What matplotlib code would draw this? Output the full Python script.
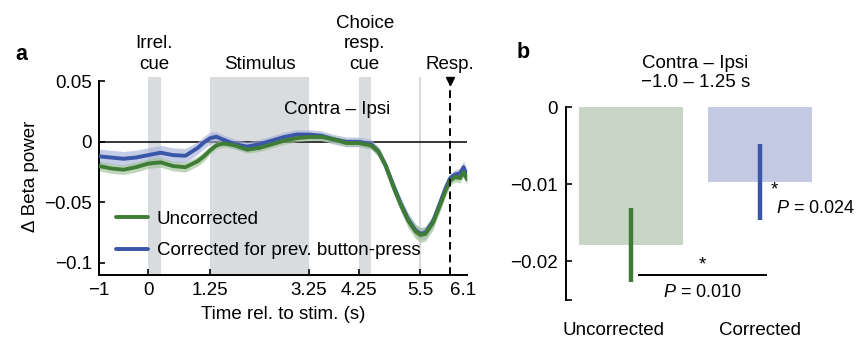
import numpy as np
import matplotlib
matplotlib.use("Agg")
from matplotlib import pyplot as plt

plt.rcParams['font.family'] = ['Liberation Sans', 'DejaVu Sans']
plt.rcParams['font.size'] = 13.5
plt.rcParams['mathtext.fontset'] = 'custom'
plt.rcParams['mathtext.it'] = 'Liberation Sans:italic'
plt.rcParams['mathtext.rm'] = 'Liberation Sans'

# panel a: time course, contra - ipsi beta power
t = [-1.0, -0.75, -0.5, -0.25, 0.0, 0.25, 0.5, 0.75, 1.0, 1.125, 1.25, 1.375, 1.5,
     1.625, 1.75, 2.0, 2.25, 2.5, 2.75, 3.0, 3.25, 3.5, 3.75, 4.0, 4.25, 4.5,
     4.65, 4.8, 4.95, 5.1, 5.25, 5.4, 5.5, 5.6, 5.75, 5.9, 6.0, 6.1, 6.2, 6.3,
     6.37, 6.44]
unc_mean = [-0.020, -0.022, -0.023, -0.021, -0.018, -0.017, -0.020, -0.021, -0.016,
            -0.012, -0.007, -0.003, -0.0015, -0.002, -0.003, -0.0065, -0.005,
            -0.002, 0.001, 0.003, 0.004, 0.004, 0.002, -0.001, -0.001, -0.003,
            -0.008, -0.020, -0.037, -0.052, -0.065, -0.074, -0.077, -0.076, -0.067,
            -0.052, -0.041, -0.032, -0.029, -0.030, -0.025, -0.031]
unc_sem = [0.004, 0.004, 0.004, 0.004, 0.004, 0.004, 0.004, 0.004, 0.004,
           0.004, 0.003, 0.003, 0.003, 0.003, 0.003, 0.003, 0.003,
           0.003, 0.003, 0.003, 0.003, 0.003, 0.003, 0.003, 0.003, 0.003,
           0.004, 0.004, 0.005, 0.005, 0.006, 0.006, 0.006, 0.006, 0.006,
           0.005, 0.005, 0.004, 0.004, 0.004, 0.004, 0.004]
cor_mean = [-0.012, -0.013, -0.014, -0.013, -0.011, -0.009, -0.011, -0.0115, -0.005,
            -0.0005, 0.003, 0.0042, 0.002, 0.000, -0.002, -0.004, -0.002,
            0.001, 0.004, 0.006, 0.006, 0.005, 0.002, 0.000, 0.000, -0.002,
            -0.008, -0.020, -0.036, -0.051, -0.064, -0.073, -0.076, -0.075, -0.066,
            -0.050, -0.039, -0.030, -0.027, -0.026, -0.021, -0.028]
cor_sem = [0.006, 0.006, 0.006, 0.006, 0.006, 0.006, 0.006, 0.006, 0.005,
           0.005, 0.005, 0.004, 0.004, 0.004, 0.004, 0.004, 0.004,
           0.004, 0.004, 0.004, 0.004, 0.004, 0.004, 0.004, 0.004, 0.004,
           0.004, 0.004, 0.005, 0.005, 0.005, 0.005, 0.005, 0.005, 0.005,
           0.005, 0.005, 0.004, 0.004, 0.004, 0.005, 0.005]

xtick_vals = [-1, 0, 1.25, 3.25, 4.25, 5.5, 6.1]
xtick_labels = ['\u22121', '0', '1.25', '3.25', '4.25', '5.5', '6.1']
ytick_vals = [0.05, 0, -0.05, -0.1]
ytick_labels = ['0.05', '0', '\u22120.05', '\u22120.1']

# event windows (start, end) and labels
events = [(0.0, 0.25), (1.25, 3.25), (4.25, 4.5)]
event_labels = ['Irrel.\ncue', 'Stimulus', 'Choice\nresp.\ncue']
resp_time = 6.1

# panel b: averaged -1.0 - 1.25 s
bar_names = ['Uncorrected', 'Corrected']
bar_means = [-0.0179, -0.0097]
bar_errs = [0.0048, 0.0049]
p_vals = ['0.010', '0.024']

green = '#3f7d36'
blue = '#3a56a8'
green_band = '#9fc097'
blue_band = '#a7b1da'
gray = '#d9dcdf'

fig = plt.figure(figsize=(8.57, 3.41), dpi=100)

# ---------------- panel a
ax = fig.add_axes([0.1153, 0.1935, 0.4296, 0.5807])
ax.set_xlim(-1, 6.44)
ax.set_ylim(-0.11, 0.0535)

for (s, e) in events:
    ax.axvspan(s, e, color=gray, lw=0, zorder=0)
ax.axvline(5.5, color=gray, lw=1.6, zorder=0)
ax.axhline(0, color='black', lw=1.1, zorder=1)

tt = np.array(t)
for m, s, c, bc, lab in [(cor_mean, cor_sem, blue, blue_band, 'Corrected for prev. button-press'),
                         (unc_mean, unc_sem, green, green_band, 'Uncorrected')]:
    m = np.array(m); s = np.array(s)
    ax.fill_between(tt, m - s, m + s, color=bc, alpha=0.65, lw=0, zorder=2)
    ax.plot(tt, m, color=c, lw=2.8, zorder=3, label=lab, solid_capstyle='round')

ax.plot([resp_time, resp_time], [-0.11, 0.05], color='black', lw=1.4,
        ls=(0, (4, 2.5)), zorder=4)
ax.plot([resp_time], [0.0505], marker='v', color='black', ms=6, clip_on=False, zorder=5)

# event labels above axes
for (s, e), lab in zip(events, event_labels):
    ax.text((s + e) / 2, 0.0565, lab, ha='center', va='bottom', linespacing=1.3)
ax.text(resp_time, 0.0565, 'Resp.', ha='center', va='bottom')
ax.text(3.81, 0.0264, 'Contra \u2013 Ipsi', ha='center', va='center')

ax.spines['top'].set_visible(False)
ax.spines['right'].set_visible(False)
ax.spines['left'].set_bounds(-0.11, 0.05)
ax.spines['bottom'].set_bounds(-1, 6.44)
for sp in ['left', 'bottom']:
    ax.spines[sp].set_linewidth(1.4)
ax.tick_params(direction='in', length=4, width=1.2, pad=5)
ax.set_xticks(xtick_vals)
ax.set_xticklabels(xtick_labels)
ax.get_xticklabels()[-1].set_horizontalalignment('left')
ax.set_yticks(ytick_vals)
ax.set_yticklabels(ytick_labels)
ax.set_xlabel('Time rel. to stim. (s)', labelpad=5)
ax.set_ylabel('\u0394 Beta power', labelpad=4)

h, l = ax.get_legend_handles_labels()
ax.legend(h[::-1], l[::-1], loc='lower left', bbox_to_anchor=(0.0, -0.005),
          frameon=False, handlelength=1.75, handletextpad=0.45, labelspacing=0.75)

fig.text(0.018, 0.84, 'a', fontsize=15.5, fontweight='bold', ha='left', va='center')

# ---------------- panel b
bx = fig.add_axes([0.6605, 0.1217, 0.3022, 0.5636])
xpos = np.arange(len(bar_names))
bx.bar(xpos, bar_means, width=0.8, color=['#c8d6c5', '#c4cae4'], zorder=1)
for x, m, e, c in zip(xpos, bar_means, bar_errs, [green, blue]):
    bx.plot([x, x], [m - e, m + e], color=c, lw=3.2, zorder=2, solid_capstyle='butt')
bx.set_xlim(-0.5, 1.5)
bx.set_ylim(-0.025, 0)

bx.plot([0.062, 1.042], [-0.0218, -0.0218], color='black', lw=1.4, clip_on=False)
bx.text(0.55, -0.0216, '*', ha='center', va='bottom', fontsize=13.5)
bx.text(0.553, -0.0241, r'$P$ = ' + p_vals[0], ha='center', va='center', fontsize=13)
bx.text(1.11, -0.0108, '*', ha='center', va='center', fontsize=13.5)
bx.text(1.12, -0.0131, r'$P$ = ' + p_vals[1], ha='left', va='center', fontsize=13)

bx.text(0.5, 1.178, 'Contra \u2013 Ipsi\n\u22121.0 \u2013 1.25 s', transform=bx.transAxes,
        ha='center', va='center', linespacing=1.2)
for x, name, dx in zip(xpos, bar_names, [-0.134, 0.0]):
    bx.text(x + dx, -0.159, name, transform=bx.get_xaxis_transform(),
            ha='center', va='center')

for sp in ['top', 'right', 'bottom']:
    bx.spines[sp].set_visible(False)
bx.spines['left'].set_linewidth(1.4)
bx.set_xticks([])
bx.set_yticks([0, -0.01, -0.02])
bx.set_yticklabels(['0', '\u22120.01', '\u22120.02'])
bx.tick_params(axis='y', direction='in', length=4, width=1.2, pad=6)
bx.set_yticks([-0.025], minor=True)
bx.tick_params(axis='y', which='minor', direction='in', length=4, width=1.2)

fig.text(0.603, 0.845, 'b', fontsize=15.5, fontweight='bold', ha='left', va='center')

fig.savefig('out.png', dpi=100)
